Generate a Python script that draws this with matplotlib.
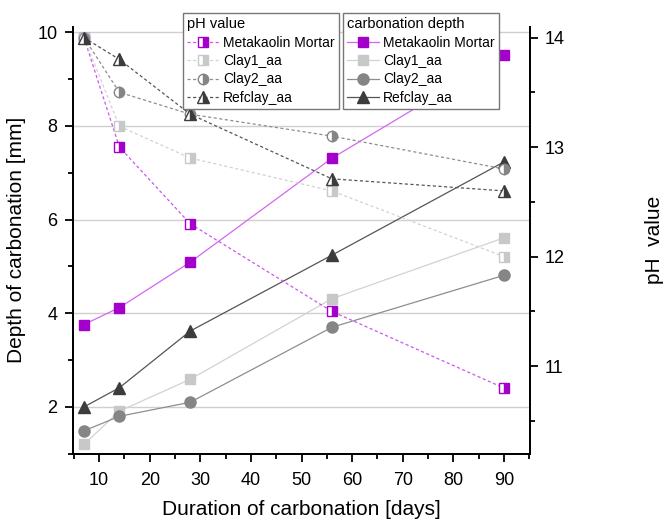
import matplotlib
matplotlib.use("Agg")
import matplotlib.pyplot as plt
from matplotlib.ticker import MultipleLocator

plt.rcParams['font.family'] = ['Liberation Sans', 'DejaVu Sans']

days = [7, 14, 28, 56, 90]
series = ["Metakaolin Mortar", "Clay1_aa", "Clay2_aa", "Refclay_aa"]

depth_meta = [3.76, 4.12, 5.09, 7.31, 9.51]
depth_clay1 = [1.2, 1.91, 2.59, 4.31, 5.61]
depth_clay2 = [1.49, 1.8, 2.1, 3.7, 4.81]
depth_ref = [2.0, 2.41, 3.62, 5.24, 7.23]

ph_meta = [14.0, 13.0, 12.3, 11.5, 10.8]
ph_clay1 = [14.0, 13.19, 12.9, 12.6, 12.0]
ph_clay2 = [14.0, 13.5, 13.3, 13.1, 12.8]
ph_ref = [14.0, 13.8, 13.3, 12.71, 12.6]

marker_cols = ["#A400CC", "#C8C8C8", "#858585", "#3C3C3C"]
line_cols = ["#D466F2", "#D2D2D2", "#8E8E8E", "#555555"]
markers = ["s", "s", "o", "^"]
msizes = [7, 7, 8, 8.5]

fig = plt.figure(figsize=(6.68, 5.21), dpi=100)
ax = fig.add_axes([0.109, 0.129, 0.684, 0.82])
ax2 = ax.twinx()

depths = [depth_meta, depth_clay1, depth_clay2, depth_ref]
phs = [ph_meta, ph_clay1, ph_clay2, ph_ref]

h_depth = []
h_ph = []
for i in range(4):
    l, = ax.plot(days, depths[i], color=line_cols[i], lw=0.9, marker=markers[i],
                 ms=msizes[i], mfc=marker_cols[i], mec=marker_cols[i], zorder=3)
    h_depth.append(l)
    p, = ax2.plot(days, phs[i], color=line_cols[i] if i else "#CC55EE", lw=0.9,
                  ls=(0, (2.5, 2)), marker=markers[i], ms=msizes[i] - 0.5,
                  fillstyle='right', mfc=marker_cols[i], mfcalt='white',
                  mec=marker_cols[i], mew=1.0, zorder=3)
    h_ph.append(p)

ax.set_xlim(4.8, 95.1)
ax.set_ylim(1.0, 10.12)
ax2.set_ylim(10.2, 14.1)

ax.xaxis.set_major_locator(MultipleLocator(10))
ax.xaxis.set_minor_locator(MultipleLocator(5))
ax.yaxis.set_major_locator(MultipleLocator(2))
ax.yaxis.set_minor_locator(MultipleLocator(1))
ax2.yaxis.set_major_locator(MultipleLocator(1))
ax2.yaxis.set_minor_locator(MultipleLocator(0.5))

ax.grid(axis='y', which='major', color='#D0D0D0', lw=1.0)
ax.set_axisbelow(True)

for a in (ax, ax2):
    a.spines['top'].set_visible(False)
    for s in a.spines.values():
        s.set_linewidth(1.3)
    a.tick_params(which='major', length=6, width=1.3, labelsize=13,
                  direction='out', pad=5)
    a.tick_params(which='minor', length=3.5, width=1.3, direction='out')
ax.tick_params(axis='x', which='major', pad=7)

ax.set_xlabel("Duration of carbonation [days]", fontsize=15, labelpad=8)
ax.set_ylabel("Depth of carbonation [mm]", fontsize=15, labelpad=8)
ax2.set_ylabel("pH  value", fontsize=15)
ax2.yaxis.set_label_coords(1.252, 0.5)

leg_kw = dict(fontsize=10, frameon=True, fancybox=False, edgecolor='#777777',
              handlelength=2.3, handletextpad=0.3, borderpad=0.3,
              labelspacing=0.32, title_fontsize=10.5, framealpha=1,
              borderaxespad=0)
leg1 = ax2.legend(h_ph, series, title="pH value", loc='upper left',
                  bbox_to_anchor=(0.2407, 1.032), **leg_kw)
leg1._legend_box.align = "left"
leg1.get_frame().set_linewidth(1.0)
ax2.add_artist(leg1)
leg2 = ax2.legend(h_depth, series, title="carbonation depth", loc='upper left',
                  bbox_to_anchor=(0.591, 1.032), **leg_kw)
leg2._legend_box.align = "left"
leg2.get_frame().set_linewidth(1.0)

fig.savefig("out.png", dpi=100)
